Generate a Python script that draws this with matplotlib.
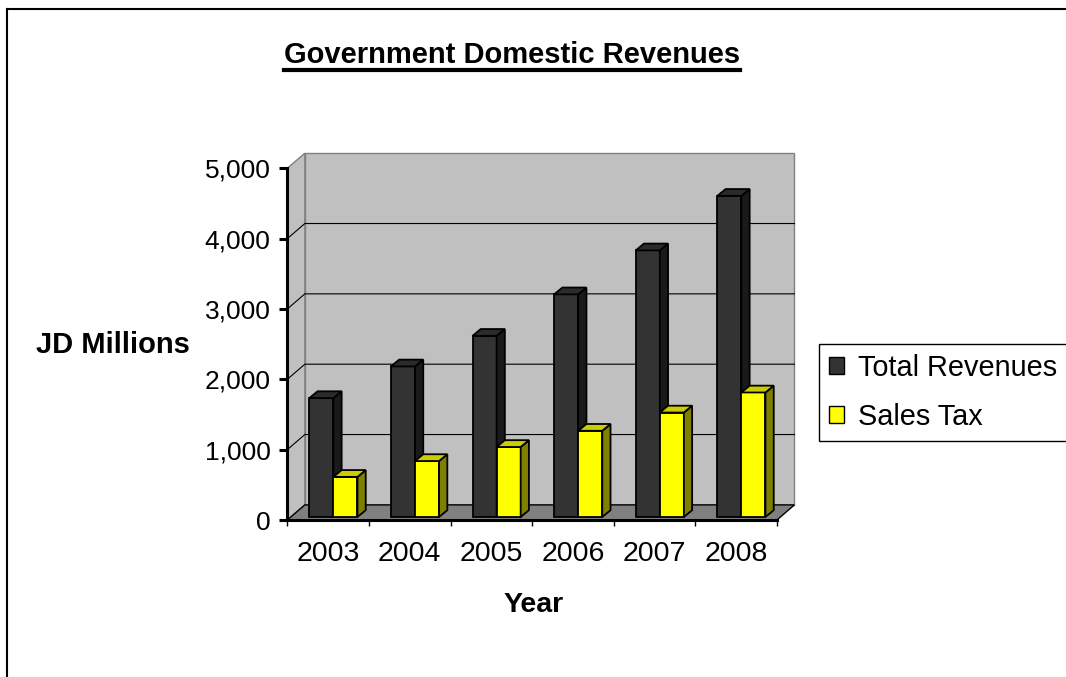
import matplotlib
matplotlib.use("Agg")
import matplotlib.pyplot as plt
from matplotlib.patches import Polygon, Patch
from matplotlib.lines import Line2D

plt.rcParams['font.family'] = ['Liberation Sans', 'DejaVu Sans']

# ---------------- data (JD millions) ----------------
years = ['2003', '2004', '2005', '2006', '2007', '2008']
total_revenues = [1690, 2140, 2575, 3165, 3790, 4565]
sales_tax = [570, 795, 995, 1225, 1485, 1770]
y_ticks = [0, 1000, 2000, 3000, 4000, 5000]
series_names = ['Total Revenues', 'Sales Tax']

# colours: front, side, top
black_cols = ('#333333', '#1a1a1a', '#2b2b2b')
yellow_cols = ('#ffff00', '#808000', '#cccc00')

W, H = 1066, 677
fig = plt.figure(figsize=(W / 100, H / 100), dpi=100)
ax = fig.add_axes([287.3 / W, 157 / H, 489.6 / W, 351.7 / H])
ax.set_xlim(0, len(years))
ax.set_ylim(0, y_ticks[-1])
ax.patch.set_visible(False)

# oblique depth of the plot box, in data units
DX, DY = 0.215, 215
# bars sit a little behind the front plane and take part of the depth
bx, by = 0.2 * DX, 0.2 * DY
bdx, bdy = 0.47 * DX, 0.45 * DY
offset, w = 0.227, 0.295
ymax = y_ticks[-1]
n = len(years)

def poly(pts, fc, ec, lw, z):
    ax.add_patch(Polygon(pts, closed=True, facecolor=fc, edgecolor=ec,
                         linewidth=lw, zorder=z, clip_on=False))

# walls and floor
poly([(DX, DY), (n + DX, DY), (n + DX, ymax + DY), (DX, ymax + DY)],
     '#c0c0c0', '#808080', 1.0, 1)
poly([(0, 0), (DX, DY), (DX, ymax + DY), (0, ymax)], '#c0c0c0', '#808080', 1.0, 1)
poly([(0, 0), (n, 0), (n + DX, DY), (DX, DY)], '#808080', 'black', 1.0, 1.05)

for v in y_ticks[1:-1]:
    ax.plot([0, DX, n + DX], [v, v + DY, v + DY], color='black', lw=0.8,
            zorder=1.1, clip_on=False)

# bars
xs = [i + offset + bx for i in range(n)]
b1 = ax.bar(xs, total_revenues, width=w, bottom=by, align='edge',
            color=black_cols[0], edgecolor='black', linewidth=1.3)
b2 = ax.bar([x + w for x in xs], sales_tax, width=w, bottom=by, align='edge',
            color=yellow_cols[0], edgecolor='black', linewidth=1.3)

for i in range(n):
    z = 2 + i * 0.05
    for j, (bars, vals, cols) in enumerate([(b1, total_revenues, black_cols),
                                            (b2, sales_tax, yellow_cols)]):
        zz = z + j * 0.02
        x0 = xs[i] + j * w
        x1 = x0 + w
        top = by + vals[i]
        bars[i].set_zorder(zz)
        poly([(x1, by), (x1 + bdx, by + bdy), (x1 + bdx, top + bdy), (x1, top)],
             cols[1], 'black', 1.3, zz + 0.005)
        poly([(x0, top), (x1, top), (x1 + bdx, top + bdy), (x0 + bdx, top + bdy)],
             cols[2], 'black', 1.3, zz + 0.01)

# front axes
for s in ['top', 'right']:
    ax.spines[s].set_visible(False)
for s in ['left', 'bottom']:
    ax.spines[s].set_linewidth(2.2)
    ax.spines[s].set_zorder(10)

ax.set_yticks(y_ticks)
ax.set_yticklabels([f'{v:,}' for v in y_ticks], fontsize=19)
ax.tick_params(axis='y', direction='out', length=6, width=2.2, pad=6)
ax.set_xticks([i + 0.5 for i in range(n)])
ax.set_xticklabels(years, fontsize=20.5)
ax.set_xticks(range(n + 1), minor=True)
ax.tick_params(axis='x', which='major', length=0, pad=15)
ax.tick_params(axis='x', which='minor', direction='out', length=4, width=1)

# texts
title = fig.text(512 / W, 1 - 63.3 / H, 'Government Domestic Revenues',
                 ha='center', va='baseline', fontsize=21, fontweight='bold')
fig.text(113 / W, 1 - 345 / H, 'JD Millions', ha='center', va='center',
         fontsize=21, fontweight='bold')
fig.text(534 / W, 1 - 605 / H, 'Year', ha='center', va='center',
         fontsize=20.5, fontweight='bold')

# legend
handles = [Patch(facecolor=black_cols[0], edgecolor='black'),
           Patch(facecolor=yellow_cols[0], edgecolor='black')]
leg = fig.legend(handles, series_names, loc='upper left',
                 bbox_to_anchor=(819 / W, 1 - 344 / H - 0.05, 300 / W, 0.05),
                 mode='expand', fontsize=20.8, fancybox=False, framealpha=1,
                 borderaxespad=0, handlelength=0.53, handleheight=0.53,
                 handletextpad=0.48, labelspacing=0.72, borderpad=0.35)
leg.get_frame().set_edgecolor('black')
leg.get_frame().set_linewidth(1.0)

# chart border (cut by the image on the right and bottom)
fig.add_artist(Line2D([7 / W, 7 / W], [0, 1 - 9 / H], color='black', lw=1.5))
fig.add_artist(Line2D([7 / W, 1], [1 - 9 / H, 1 - 9 / H], color='black', lw=1.5))

# underline the title
fig.canvas.draw()
bb = title.get_window_extent()
fig.add_artist(Line2D([bb.x0 / W, bb.x1 / W], [1 - 69.5 / H, 1 - 69.5 / H],
                      color='black', lw=3))

fig.savefig('out.png', dpi=100)
